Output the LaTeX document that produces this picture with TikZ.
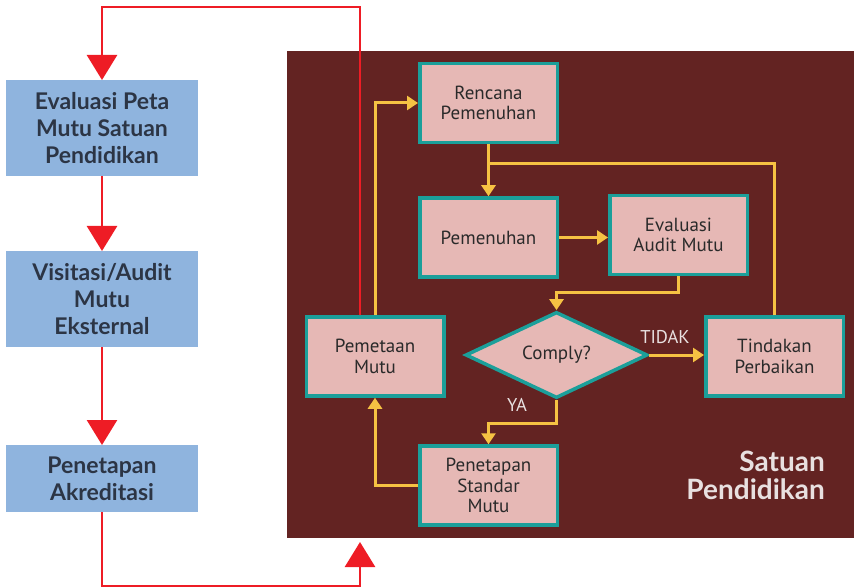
\documentclass[tikz,border=0pt]{standalone}
\usepackage{fontspec}
\setmainfont{PT Sans}
\newfontfamily\headfont{Lato}
\usetikzlibrary{arrows.meta,shapes.geometric,calc}
\definecolor{panelc}{HTML}{632322}
\definecolor{tealc}{HTML}{1B9F9A}
\definecolor{pinkc}{HTML}{E6B8B5}
\definecolor{yellowc}{HTML}{F6C243}
\definecolor{redc}{HTML}{EE1C25}
\definecolor{bluec}{HTML}{8FB4DE}
\definecolor{bluetext}{HTML}{2C3545}
\definecolor{pinktext}{HTML}{2A2A2A}
\definecolor{labelc}{HTML}{E8E0E0}
\begin{document}
\begin{tikzpicture}[x=1pt,y=-1pt,
  bluebox/.style={fill=bluec, inner sep=0pt, outer sep=0pt, align=center,
    minimum width=192pt, text=bluetext,
    font=\headfont\bfseries\fontsize{23}{27}\selectfont},
  pinkbox/.style={draw=tealc, line width=3.5pt, fill=pinkc, inner sep=0pt,
    align=center, minimum width=137.5pt, minimum height=79pt, text=pinktext,
    font=\fontsize{19}{20.5}\selectfont},
  decision/.style={diamond, draw=tealc, line width=3.5pt, fill=pinkc,
    inner sep=0pt, minimum width=182pt, minimum height=71pt, text=pinktext,
    font=\fontsize{19}{20}\selectfont},
  redline/.style={draw=redc, line width=2.7pt,
    -{Triangle[width=30pt,length=25pt]}},
  yline/.style={draw=yellowc, line width=3pt},
  yarrow/.style={yline, -{Triangle[width=14pt,length=11pt]}},
  lbl/.style={text=labelc, inner sep=0pt, font=\fontsize{18.5}{20}\selectfont},
  unitlbl/.style={text=labelc, inner sep=0pt, anchor=base east,
    font=\headfont\bfseries\fontsize{28}{28}\selectfont}
]
\useasboundingbox (0,0) rectangle (854,588);

% dark panel of the school unit
\fill[panelc] (287,51) rectangle (854,538);

% external accreditation chain
\node[bluebox, minimum height=96pt] (b1) at (102,128)
  {Evaluasi Peta\\Mutu Satuan\\Pendidikan};
\node[bluebox, minimum height=96pt] (b2) at (102,299)
  {Visitasi/Audit\\Mutu\\Eksternal};
\node[bluebox, minimum height=67pt] (b3) at (102,478.5)
  {Penetapan\\Akreditasi};

% internal quality cycle
\node[pinkbox] (rp) at (488.5,103)   {Rencana\\Pemenuhan};
\node[pinkbox] (pm) at (488.5,237.5) {Pemenuhan};
\node[pinkbox] (ev) at (678.5,235)   {Evaluasi\\Audit Mutu};
\node[decision] (cp) at (556.5,355)  {Comply?};
\node[pinkbox] (tp) at (774.5,356.5) {Tindakan\\Perbaikan};
\node[pinkbox] (ps) at (488.5,485.5) {Penetapan\\Standar\\Mutu};
\node[pinkbox] (pt) at (375,356.5)   {Pemetaan\\Mutu};

% panel title
\node[unitlbl] (unit1) at (825,471) {Satuan};
\node[unitlbl] (unit2) at (825,499) {Pendidikan};

% red connectors
\coordinate (rtop) at (360,7);
\coordinate (cbot) at (360,586);
\coordinate (rin)  at (360,542);
\draw[redline] ([xshift=-15pt]pt.north) -- (rtop) -| (b1.north);
\draw[redline] (b1.south) -- (b2.north);
\draw[redline] (b2.south) -- (b3.north);
\draw[redline] (b3.south) |- (cbot) -- (rin);

% yellow connectors
\path (rp.south) ++(0,19) coordinate (jn);
\draw[yarrow] (pt.north) |- (rp.west);
\draw[yarrow] (rp.south) -- (pm.north);
\draw[yline]  (tp.north) |- (jn);
\draw[yarrow] (pm.east) -- (pm.east -| ev.west);
\draw[yarrow] (ev.south) -- ++(0,16) -| (cp.north);
\draw[yarrow] (cp.east) -- (cp.east -| tp.west);
\draw[yarrow] (cp.south) -- ++(0,24) -| (ps.north);
\draw[yarrow] (ps.west) -| (pt.south);

\node[lbl, anchor=base] (tidak) at (665,343) {TIDAK};
\node[lbl, anchor=base] (ya) at (517,411) {YA};
\end{tikzpicture}
\end{document}
